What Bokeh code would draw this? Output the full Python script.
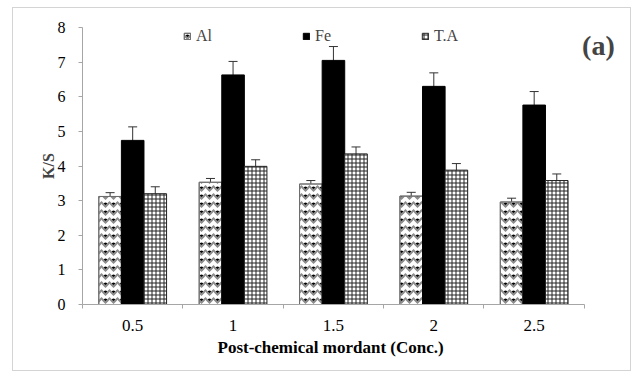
import numpy as np
from bokeh.plotting import figure
from bokeh.models import (ColumnDataSource, Range1d, FixedTicker, Whisker, Legend,
                          LegendItem, Label, Title)
from bokeh.embed import file_html
from bokeh.resources import INLINE

categories = ["0.5", "1", "1.5", "2", "2.5"]
al = [3.12, 3.53, 3.48, 3.13, 2.96]
al_err = [0.11, 0.11, 0.10, 0.11, 0.11]
fe = [4.74, 6.63, 7.05, 6.30, 5.76]
fe_err = [0.39, 0.39, 0.40, 0.39, 0.39]
ta = [3.20, 3.99, 4.35, 3.88, 3.58]
ta_err = [0.20, 0.19, 0.20, 0.19, 0.19]

FONT = "'Liberation Serif', 'Times New Roman', serif"
x = np.arange(len(categories)) + 0.5
bw = 0.225

def src(vals, errs, off):
    v = np.array(vals); e = np.array(errs)
    return ColumnDataSource(dict(x=x + off, top=v, upper=v + e, lower=v - e))

s_al = src(al, al_err, -bw)
s_fe = src(fe, fe_err, 0.0)
s_ta = src(ta, ta_err, bw)

p = figure(width=619, height=364, output_backend="svg", toolbar_location=None,
           x_range=Range1d(0, 5.35), y_range=Range1d(0, 8),
           min_border_left=69, min_border_right=13, min_border_top=19,
           min_border_bottom=68,
           styles={"border": "1px solid #d4d4d4", "margin-top": "7px",
                   "margin-left": "12px"})
p.outline_line_color = None
p.xgrid.visible = False
p.ygrid.visible = False

r_al = p.vbar(x="x", top="top", width=bw, source=s_al, fill_color="white",
              line_color="#6e6e6e", line_width=1,
              hatch_pattern="dot", hatch_color="black", hatch_scale=8, hatch_weight=5)
r_al2 = p.vbar(x="x", top="top", width=bw, source=s_al, fill_alpha=0,
               line_color="#6e6e6e", line_width=1,
               hatch_pattern="horizontal_wave", hatch_color="#8c8c8c", hatch_scale=8,
               hatch_weight=2)
r_fe = p.vbar(x="x", top="top", width=bw, source=s_fe, fill_color="black",
              line_color="black")
r_ta = p.vbar(x="x", top="top", width=bw, source=s_ta, fill_color="white",
              line_color="#222222", line_width=1,
              hatch_pattern="cross", hatch_color="#222222", hatch_scale=4, hatch_weight=1)

for s in (s_al, s_fe, s_ta):
    w = Whisker(source=s, base="x", upper="upper", lower="lower",
                line_color="#333333", line_width=1)
    w.upper_head.size = 9
    w.lower_head.size = 9
    w.upper_head.line_color = "#333333"
    w.lower_head.line_color = "#333333"
    p.add_layout(w)

ax = p.yaxis[0]
ax.ticker = FixedTicker(ticks=list(range(0, 9)))
ax.axis_line_color = "#a6a6a6"
ax.major_tick_line_color = "#a6a6a6"
ax.major_tick_out = 4
ax.major_tick_in = 0
ax.minor_tick_line_color = None
ax.major_label_text_font = FONT
ax.major_label_text_font_size = "16px"
ax.major_label_text_color = "black"
ax.major_label_standoff = 13
ax.axis_label = "K/S"
ax.axis_label_text_font = FONT
ax.axis_label_text_font_style = "bold"
ax.axis_label_text_font_size = "16px"
ax.axis_label_standoff = -2

xa = p.xaxis[0]
xa.bounds = (0, 5)
xa.ticker = FixedTicker(ticks=list(x), minor_ticks=list(range(0, 6)))
xa.major_label_overrides = {float(xv): c for xv, c in zip(x, categories)}
xa.axis_line_color = "#a6a6a6"
xa.major_tick_line_color = None
xa.major_tick_out = 0
xa.major_tick_in = 0
xa.minor_tick_line_color = "#a6a6a6"
xa.minor_tick_out = 4
xa.minor_tick_in = 0
xa.major_label_text_font = FONT
xa.major_label_text_font_size = "17px"
xa.major_label_text_color = "black"
xa.major_label_standoff = 11

# x-axis title centred under the axis bounds (0..5), not the widened frame
p.add_layout(Title(text="Post-chemical mordant (Conc.)", align="left", offset=135,
                   text_font=FONT, text_font_style="bold", text_font_size="17px",
                   text_color="black", standoff=5), "below")

legend = Legend(items=[LegendItem(label="Al", renderers=[r_al, r_al2]),
                       LegendItem(label="Fe", renderers=[r_fe]),
                       LegendItem(label="T.A", renderers=[r_ta])],
                orientation="horizontal", location=(101, 258),
                glyph_width=8, glyph_height=8, label_standoff=5, spacing=86,
                padding=0, margin=0, border_line_color=None, background_fill_alpha=0,
                label_text_font=FONT, label_text_font_size="16px", label_height=20)
p.add_layout(legend, "center")

p.add_layout(Label(x=5.14, y=7.48, text="(a)", text_font=FONT, text_font_style="bold",
                   text_font_size="28px", text_align="center", text_baseline="middle"))

open("out.html", "w").write(file_html(p, INLINE))
